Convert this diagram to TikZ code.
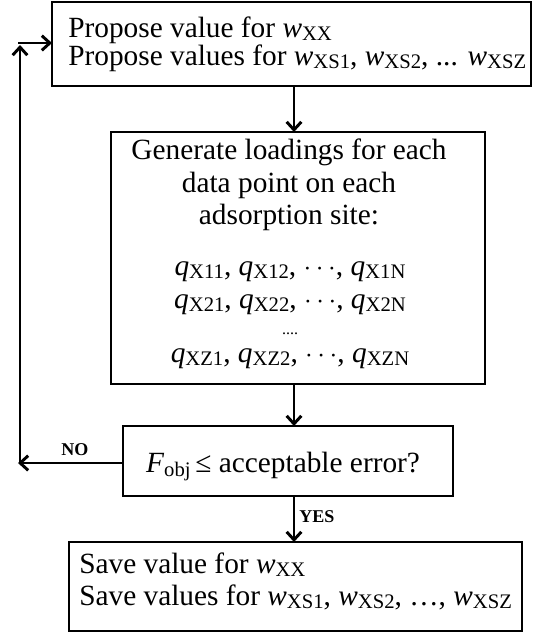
\documentclass[tikz,border=0pt]{standalone}
\usepackage{fontspec}
\setmainfont{Liberation Serif}
\usetikzlibrary{arrows.meta}
% italic symbol with a lowered upright subscript
\newcommand\sbs[1]{\raisebox{-2.6pt}{\fontsize{15.5pt}{15.5pt}\selectfont #1}}
\newcommand\wv[1]{\textit{w}\sbs{#1}}
\newcommand\qv[1]{\textit{q}\sbs{#1}}
\begin{document}
\begin{tikzpicture}[x=0.75pt,y=-0.75pt,
  box/.style={draw,line width=2.2pt,inner sep=0pt,outer sep=0pt},
  txt/.style={inner sep=0pt,font=\fontsize{22pt}{26pt}\selectfont},
  flow/.style={line width=2.2pt,-{Straight Barb[length=6pt,width=11pt]}},
  lbl/.style={inner sep=0pt,font=\bfseries\fontsize{13.5pt}{14pt}\selectfont}]
\useasboundingbox (0,0) rectangle (533,637);

% boxes
\node[box,minimum width=359.25pt,minimum height=63pt] (b1) at (291.5,44) {};
\node[box,minimum width=280.5pt,minimum height=189pt] (b2) at (298,258) {};
\node[box,minimum width=247.5pt,minimum height=52.5pt] (b3) at (288,461) {};
\node[box,minimum width=339.75pt,minimum height=66.75pt] (b4) at (295.5,586.5) {};

% text of the first box
\node[txt,anchor=base west] (p1) at (68,37) {Propose value for \wv{XX}};
\node[txt,anchor=base west] (p2) at (68,65) {Propose values for \wv{XS1}, \wv{XS2}, ... \wv{XSZ}};

% text of the second box
\node[txt,anchor=base] (g1) at (289,159) {Generate loadings for each};
\node[txt,anchor=base] (g2) at (289,192) {data point on each};
\node[txt,anchor=base] (g3) at (289,224) {adsorption site:};
\node[txt,anchor=base] (g4) at (290,275) {\qv{X11}, \qv{X12}, $\cdots$, \qv{X1N}};
\node[txt,anchor=base] (g5) at (290,308) {\qv{X21}, \qv{X22}, $\cdots$, \qv{X2N}};
\node[inner sep=0pt,anchor=base,font=\fontsize{12pt}{12pt}\selectfont] (g6) at (290,334) {....};
\node[txt,anchor=base] (g7) at (290,362) {\qv{XZ1}, \qv{XZ2}, $\cdots$, \qv{XZN}};

% decision
\node[txt,anchor=base] (d1) at (283,472) {\textit{F}\raisebox{-3.5pt}{\fontsize{15.5pt}{15.5pt}\selectfont obj}\,≤ acceptable error?};

% text of the last box
\node[txt,anchor=base west] (s1) at (79,573) {Save value for \wv{XX}};
\node[txt,anchor=base west] (s2) at (79,605) {Save values for \wv{XS1}, \wv{XS2}, …, \wv{XSZ}};

% connectors
\coordinate (ax) at (294,0);
\coordinate (lx) at (20,0);
\coordinate (nt) at (18,463);
\coordinate (up) at (20,45);
\coordinate (rs) at (18,43);
\draw[flow] (b1.south -| ax) -- (b2.north -| ax);
\draw[flow] (b2.south -| ax) -- (b3.north -| ax);
\draw[flow] (b3.south -| ax) -- (b4.north -| ax);
\draw[flow] (b3.west |- nt) -- (nt);
\draw[flow] (nt -| lx) -- (up);
\draw[flow] (rs) -- (b1.west |- rs);

% branch labels
\node[lbl] (no) at (75,450) {NO};
\node[lbl] (yes) at (317,517) {YES};
\end{tikzpicture}
\end{document}
